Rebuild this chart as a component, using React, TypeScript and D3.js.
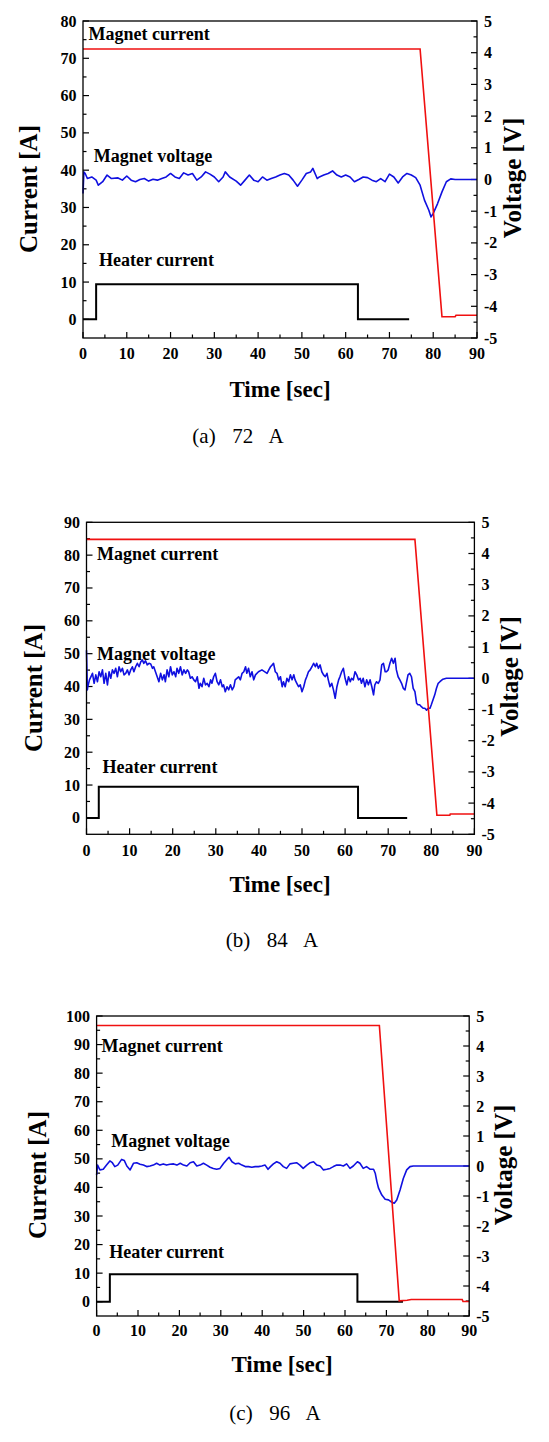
import React from "react";
import * as d3 from "d3";

// ---------- DATA ----------
const timeTicks = [0, 10, 20, 30, 40, 50, 60, 70, 80, 90];
const voltageTicks = [-5, -4, -3, -2, -1, 0, 1, 2, 3, 4, 5];
const currentTicksA = [0, 10, 20, 30, 40, 50, 60, 70, 80];
const currentTicksB = [0, 10, 20, 30, 40, 50, 60, 70, 80, 90];
const currentTicksC = [0, 10, 20, 30, 40, 50, 60, 70, 80, 90, 100];
const captions = ["(a)  72  A", "(b)  84  A", "(c)  96  A"];
const seriesLabels = ["Magnet current", "Magnet voltage", "Heater current"];

// Panel (a) 72 A
const magnetCurrentA: [number, number][] = [[0, 72.5], [77, 72.5], [82, 0.7], [85, 0.7], [85.2, 1.1], [90, 1.1]];
const heaterCurrentA: [number, number][] = [[0, 0], [3, 0], [3, 9.4], [62.8, 9.4], [62.8, 0], [74.5, 0]];
const magnetVoltageA: [number, number][] = [
  [0, -0.44], [0.2, 0.24], [0.5, 0.19], [1, 0.03], [2, 0.08], [3, -0.02], [3.5, -0.18], [4.5, -0.07], [5.5, 0.14],
  [6.5, 0.03], [8, 0.05], [9, -0.02], [10, 0.11], [11, -0.02], [12, -0.07], [13, 0.0], [14, 0.03], [15, -0.05],
  [16, 0.01], [17, -0.02], [18, 0.03], [19, 0.08], [20, 0.19], [21, 0.08], [22, 0.03], [23, 0.21], [24, 0.14],
  [25, 0.19], [26, -0.02], [27, 0.08], [28, 0.24], [29, 0.17], [30, 0.08], [31, -0.07], [32, 0.08], [32.5, 0.24],
  [33.5, 0.08], [35, -0.05], [36, -0.18], [37, -0.02], [38, 0.14], [39, -0.02], [40, -0.07], [41, 0.08], [42, -0.02],
  [43, 0.03], [44, 0.08], [45, 0.14], [46, 0.19], [47, 0.14], [48, -0.02], [49, -0.21], [50, -0.02], [51, 0.19],
  [52, 0.24], [52.5, 0.35], [53.5, 0.03], [54, 0.08], [55, 0.14], [56, 0.19], [57, 0.27], [58, 0.14], [59, 0.08],
  [60, 0.14], [61, 0.08], [62, -0.07], [63, 0.0], [64, 0.08], [65, 0.06], [66, -0.02], [67, -0.07], [68, 0.03],
  [69, -0.07], [70, 0.17], [71, 0.08], [72, -0.11], [73, 0.08], [74, 0.19], [75, 0.14], [76, 0.06], [77, -0.18],
  [78, -0.65], [79, -0.97], [79.5, -1.18], [80, -1.07], [81, -0.76], [82, -0.39], [83, -0.07], [84, 0.02], [85, 0.0],
  [90, 0.0],
];

// Panel (b) 84 A
const magnetCurrentB: [number, number][] = [[0, 84.8], [76.2, 84.8], [81.3, 0.8], [84.3, 0.8], [84.4, 1.2], [90, 1.2]];
const heaterCurrentB: [number, number][] = [[0, 0], [2.85, 0], [2.85, 9.5], [63, 9.5], [63, 0], [74.4, 0]];
const magnetVoltageB: [number, number][] = [
  [0, 0.9], [0.2, -0.37], [0.3, -0.27], [0.69, -0.05], [1.39, 0.16], [1.77, -0.16], [2.16, 0.11], [2.54, -0.11],
  [2.93, 0.21], [3.31, 0.05], [3.7, 0.27], [4.08, -0.16], [4.47, 0.16], [4.86, -0.21], [5.24, 0.21], [5.63, 0.0],
  [6.01, 0.27], [6.4, 0.16], [6.78, 0.32], [7.17, 0.05], [7.55, 0.37], [7.94, 0.21], [8.33, 0.32], [8.71, 0.11],
  [9.1, 0.16], [9.48, 0.27], [9.87, 0.11], [10.25, 0.27], [10.64, 0.37], [11.0, 0.21], [11.4, 0.37], [11.8, 0.48],
  [12.2, 0.37], [12.6, 0.53], [12.95, 0.59], [13.3, 0.48], [13.7, 0.56], [14.1, 0.43], [14.5, 0.48], [14.9, 0.46],
  [15.3, 0.32], [15.6, 0.37], [16.0, 0.21], [16.4, 0.05], [16.8, -0.11], [17.2, 0.16], [17.6, -0.05], [18.0, 0.11],
  [18.3, -0.11], [18.7, 0.27], [19.1, 0.05], [19.5, 0.37], [19.9, 0.11], [20.3, 0.21], [20.7, 0.05], [21.0, 0.32],
  [21.4, 0.16], [21.8, 0.37], [22.2, 0.11], [22.6, 0.27], [23.0, 0.16], [23.4, 0.27], [23.7, 0.21], [24.1, 0.0],
  [24.5, 0.05], [24.9, -0.05], [25.3, -0.11], [25.7, 0.05], [26.1, -0.32], [26.4, -0.16], [26.8, -0.27], [27.2, 0.0],
  [27.6, -0.21], [28.0, -0.16], [28.4, -0.27], [28.8, -0.05], [29.1, -0.16], [29.5, 0.05], [29.9, 0.16], [30.3, -0.11],
  [30.7, -0.21], [31.1, -0.05], [31.5, -0.27], [31.8, -0.21], [32.2, -0.43], [32.6, -0.27], [33.0, -0.37], [33.4, -0.21],
  [33.8, -0.37], [34.2, -0.27], [34.5, -0.05], [34.9, 0.0], [35.3, 0.05], [35.7, -0.05], [36.1, 0.16], [36.5, 0.21],
  [36.9, 0.37], [37.2, 0.16], [37.6, 0.32], [38.0, 0.05], [38.4, 0.21], [38.8, -0.05], [39.2, 0.11], [39.9, 0.21],
  [40.7, 0.27], [41.9, 0.16], [42.3, 0.27], [42.7, 0.37], [43.1, 0.43], [43.4, 0.48], [43.8, 0.21], [44.2, 0.16],
  [44.6, -0.05], [45.0, 0.05], [45.4, -0.27], [45.7, -0.11], [46.1, -0.27], [46.5, 0.0], [46.9, -0.11], [47.3, 0.11],
  [47.7, -0.05], [48.1, 0.11], [48.4, -0.05], [48.8, -0.16], [49.2, -0.27], [49.6, -0.21], [50.0, -0.43], [50.4, -0.27],
  [50.8, -0.05], [51.1, 0.05], [51.5, 0.21], [51.9, 0.27], [52.3, 0.37], [52.7, 0.48], [53.1, 0.37], [53.4, 0.48],
  [53.8, 0.32], [54.2, 0.43], [54.6, 0.21], [55.0, 0.11], [55.4, 0.05], [55.8, 0.16], [56.1, -0.05], [56.5, -0.27],
  [56.9, -0.16], [57.3, -0.37], [57.7, -0.64], [58.1, -0.27], [58.5, -0.05], [58.8, 0.05], [59.2, 0.21], [59.6, 0.32],
  [60.0, 0.0], [60.4, -0.21], [60.8, 0.05], [61.2, -0.11], [61.5, 0.0], [61.9, -0.05], [62.3, 0.21], [62.7, 0.11],
  [63.1, -0.05], [63.5, 0.0], [63.8, -0.16], [64.2, 0.0], [64.6, -0.27], [65.0, -0.05], [65.4, -0.21], [65.8, -0.05],
  [66.2, -0.27], [66.6, -0.53], [66.9, -0.21], [67.3, -0.11], [67.7, -0.16], [68.1, -0.05], [68.5, 0.43], [68.9, 0.48],
  [69.3, 0.21], [69.6, 0.21], [70.0, 0.27], [70.4, 0.48], [70.8, 0.64], [71.2, 0.48], [71.6, 0.64], [71.9, 0.27],
  [72.3, 0.05], [72.7, -0.05], [73.1, -0.16], [73.5, -0.32], [73.9, -0.37], [74.2, -0.16], [74.6, 0.11], [75.0, 0.16],
  [75.4, 0.05], [75.8, -0.32], [76.2, -0.43], [76.6, -0.8], [76.9, -0.85], [77.3, -0.85], [77.7, -0.91], [78.1, -0.96],
  [78.5, -0.96], [78.9, -1.02], [79.3, -0.96], [79.7, -0.96], [80.0, -0.85], [80.4, -0.69], [80.8, -0.53], [81.2, -0.32],
  [81.6, -0.16], [82.0, -0.11], [82.7, -0.03], [83.5, 0.0], [84.6, 0.0], [90, 0.0],
];

// Panel (c) 96 A
const magnetCurrentC: [number, number][] = [[0, 96.7], [68.3, 96.7], [73.1, 0.3], [75, 0.5], [76, 0.8], [88.3, 0.8], [88.5, 0.1], [90, 0.1]];
const heaterCurrentC: [number, number][] = [[0, 0], [3.2, 0], [3.2, 9.6], [63, 9.6], [63, 0], [74, 0]];
const magnetVoltageC: [number, number][] = [
  [0, -0.3], [0.24, 0.03], [0.8, -0.13], [1.6, -0.11], [2.4, 0.03], [3.2, 0.17], [3.8, 0.11], [4.4, -0.02], [5.1, 0.03],
  [6.05, 0.22], [6.7, 0.18], [7.3, 0.0], [8.1, -0.13], [8.9, 0.09], [9.7, 0.11], [10.5, 0.06], [11.3, 0.03], [12.1, -0.02],
  [12.9, 0.0], [13.7, 0.03], [14.5, 0.09], [15.3, 0.03], [16.1, 0.07], [16.9, 0.03], [17.7, 0.06], [18.6, 0.07],
  [19.4, 0.03], [20.2, 0.09], [21.0, 0.03], [21.8, 0.0], [22.6, 0.11], [23.4, 0.14], [24.2, 0.0], [25.0, 0.03],
  [25.8, 0.09], [26.6, 0.03], [27.4, -0.04], [28.2, -0.08], [29.0, -0.11], [29.8, -0.08], [30.7, 0.09], [31.5, 0.22],
  [32.0, 0.29], [32.7, 0.14], [33.5, 0.07], [34.3, 0.09], [35.1, 0.03], [35.9, -0.02], [36.7, -0.02], [37.5, -0.04],
  [38.3, -0.02], [39.1, -0.02], [39.9, 0.0], [40.7, 0.03], [41.4, -0.11], [42.0, -0.02], [42.7, 0.07], [43.5, 0.14],
  [44.3, 0.09], [45.1, -0.02], [45.9, -0.08], [46.7, 0.07], [47.5, 0.09], [48.3, 0.11], [49.1, 0.03], [49.9, -0.08],
  [50.8, 0.03], [51.6, 0.11], [52.4, 0.14], [53.2, 0.03], [54.0, 0.0], [54.8, -0.13], [55.6, -0.11], [56.4, -0.08],
  [57.2, -0.02], [58.0, 0.03], [58.8, 0.03], [59.6, 0.0], [60.4, 0.07], [61.2, -0.08], [62.0, 0.0], [63.0, 0.14],
  [63.6, 0.09], [64.4, -0.08], [65.2, -0.02], [66.1, -0.11], [66.9, -0.11], [67.3, -0.24], [67.7, -0.52], [68.1, -0.74],
  [68.9, -0.97], [69.7, -1.11], [70.5, -1.13], [71.1, -1.19], [71.9, -1.24], [72.5, -1.13], [73.3, -0.8], [74.1, -0.41],
  [74.9, -0.13], [75.7, -0.02], [76.5, 0.0], [90, 0.0],
];

// ---------- LAYOUT ----------
type Layout = {
  left: number; right: number; top: number; bottom: number;
  tickBase: number; timeX: number; timeY: number;
  curX: number; curY: number; voltX: number; voltY: number;
  capX: number; capY: number;
  lab: [number, number][];
};

const layouts: Layout[] = [
  { left: 83, right: 477, top: 21, bottom: 338, tickBase: 359, timeX: 280, timeY: 397, curX: 37, curY: 189, voltX: 521, voltY: 178, capX: 238, capY: 443,
    lab: [[88.6, 40], [93.8, 161.7], [99.1, 265.7]] },
  { left: 86.5, right: 474.4, top: 522.3, bottom: 834.3, tickBase: 855.5, timeX: 280, timeY: 892, curX: 42, curY: 688, voltX: 518, voltY: 676.5, capX: 272, capY: 947,
    lab: [[97, 560], [97, 660], [102.6, 773.3]] },
  { left: 96.6, right: 469.2, top: 1016, bottom: 1316, tickBase: 1336, timeX: 282, timeY: 1372, curX: 46, curY: 1175, voltX: 512, voltY: 1165, capX: 275, capY: 1420,
    lab: [[101.5, 1051.7], [111.3, 1147.3], [109.2, 1257.7]] },
];

const FONT = "'Liberation Serif', 'Times New Roman', serif";

function Panel({ L, cTicks, mc, hc, mv, caption }: {
  L: Layout; cTicks: number[]; mc: [number, number][]; hc: [number, number][]; mv: [number, number][]; caption: string;
}) {
  const cMax = cTicks[cTicks.length - 1];
  const x = d3.scaleLinear().domain([0, 90]).range([L.left, L.right]);
  const yI = d3.scaleLinear().domain([-5, cMax]).range([L.bottom, L.top]);
  const yV = d3.scaleLinear().domain([-5, 5]).range([L.bottom, L.top]);
  const lineI = d3.line<[number, number]>().x((d) => x(d[0])).y((d) => yI(d[1]));
  const lineV = d3.line<[number, number]>().x((d) => x(d[0])).y((d) => yV(d[1]));
  const xMinor = d3.range(5, 90, 10);
  const iMinor = d3.range(-5, cMax, 10).filter((v) => v > -5);
  const vMinor = d3.range(-4.5, 5, 1);
  const MAJ = 6, MIN = 3.5;
  return (
    <g>
      <g stroke="#000" strokeWidth={1.2}>
        {timeTicks.map((t) => <line key={"xt" + t} x1={x(t)} x2={x(t)} y1={L.bottom} y2={L.bottom - MAJ} />)}
        {xMinor.map((t) => <line key={"xm" + t} x1={x(t)} x2={x(t)} y1={L.bottom} y2={L.bottom - MIN} />)}
        {cTicks.map((v) => <line key={"it" + v} x1={L.left} x2={L.left + MAJ} y1={yI(v)} y2={yI(v)} />)}
        {iMinor.map((v) => <line key={"im" + v} x1={L.left} x2={L.left + MIN} y1={yI(v)} y2={yI(v)} />)}
        {voltageTicks.map((v) => <line key={"vt" + v} x1={L.right} x2={L.right - MAJ} y1={yV(v)} y2={yV(v)} />)}
        {vMinor.map((v) => <line key={"vm" + v} x1={L.right} x2={L.right - MIN} y1={yV(v)} y2={yV(v)} />)}
      </g>
      <path d={lineI(hc) || ""} fill="none" stroke="#000" strokeWidth={2} />
      <path d={lineV(mv) || ""} fill="none" stroke="#1010e0" strokeWidth={1.6} strokeLinejoin="round" />
      <path d={lineI(mc) || ""} fill="none" stroke="#f01010" strokeWidth={1.6} />
      <rect x={L.left} y={L.top} width={L.right - L.left} height={L.bottom - L.top} fill="none" stroke="#000" strokeWidth={1.3} />
      <g fontFamily={FONT} fontWeight="bold" fontSize={16} fill="#000">
        {timeTicks.map((t) => <text key={"xl" + t} x={x(t)} y={L.tickBase} textAnchor="middle">{t}</text>)}
        {cTicks.map((v) => <text key={"il" + v} x={L.left - 6.5} y={yI(v) + 5.5} textAnchor="end">{v}</text>)}
        {voltageTicks.map((v) => <text key={"vl" + v} x={L.right + 7} y={yV(v) + 5.5} textAnchor="start">{v}</text>)}
      </g>
      <g fontFamily={FONT} fontWeight="bold" fontSize={25} fill="#000">
        <text x={L.timeX} y={L.timeY} textAnchor="middle" fontSize={23}>Time [sec]</text>
        <text transform={`translate(${L.curX},${L.curY}) rotate(-90)`} textAnchor="middle">Current [A]</text>
        <text transform={`translate(${L.voltX},${L.voltY}) rotate(-90)`} textAnchor="middle">Voltage [V]</text>
      </g>
      <g fontFamily={FONT} fontWeight="bold" fontSize={18} fill="#000">
        {seriesLabels.map((s, i) => <text key={s} x={L.lab[i][0]} y={L.lab[i][1]}>{s}</text>)}
      </g>
      <text x={L.capX} y={L.capY} textAnchor="middle" fontFamily={FONT} fontSize={21} wordSpacing={3} fill="#000" style={{ whiteSpace: "pre" }}>{caption}</text>
    </g>
  );
}

export default function App() {
  return (
    <svg width={549} height={1442} viewBox="0 0 549 1442" style={{ position: "absolute", left: 0, top: 0, background: "#fff" }}>
      <rect x={0} y={0} width={549} height={1442} fill="#fff" />
      <Panel L={layouts[0]} cTicks={currentTicksA} mc={magnetCurrentA} hc={heaterCurrentA} mv={magnetVoltageA} caption={captions[0]} />
      <Panel L={layouts[1]} cTicks={currentTicksB} mc={magnetCurrentB} hc={heaterCurrentB} mv={magnetVoltageB} caption={captions[1]} />
      <Panel L={layouts[2]} cTicks={currentTicksC} mc={magnetCurrentC} hc={heaterCurrentC} mv={magnetVoltageC} caption={captions[2]} />
    </svg>
  );
}
